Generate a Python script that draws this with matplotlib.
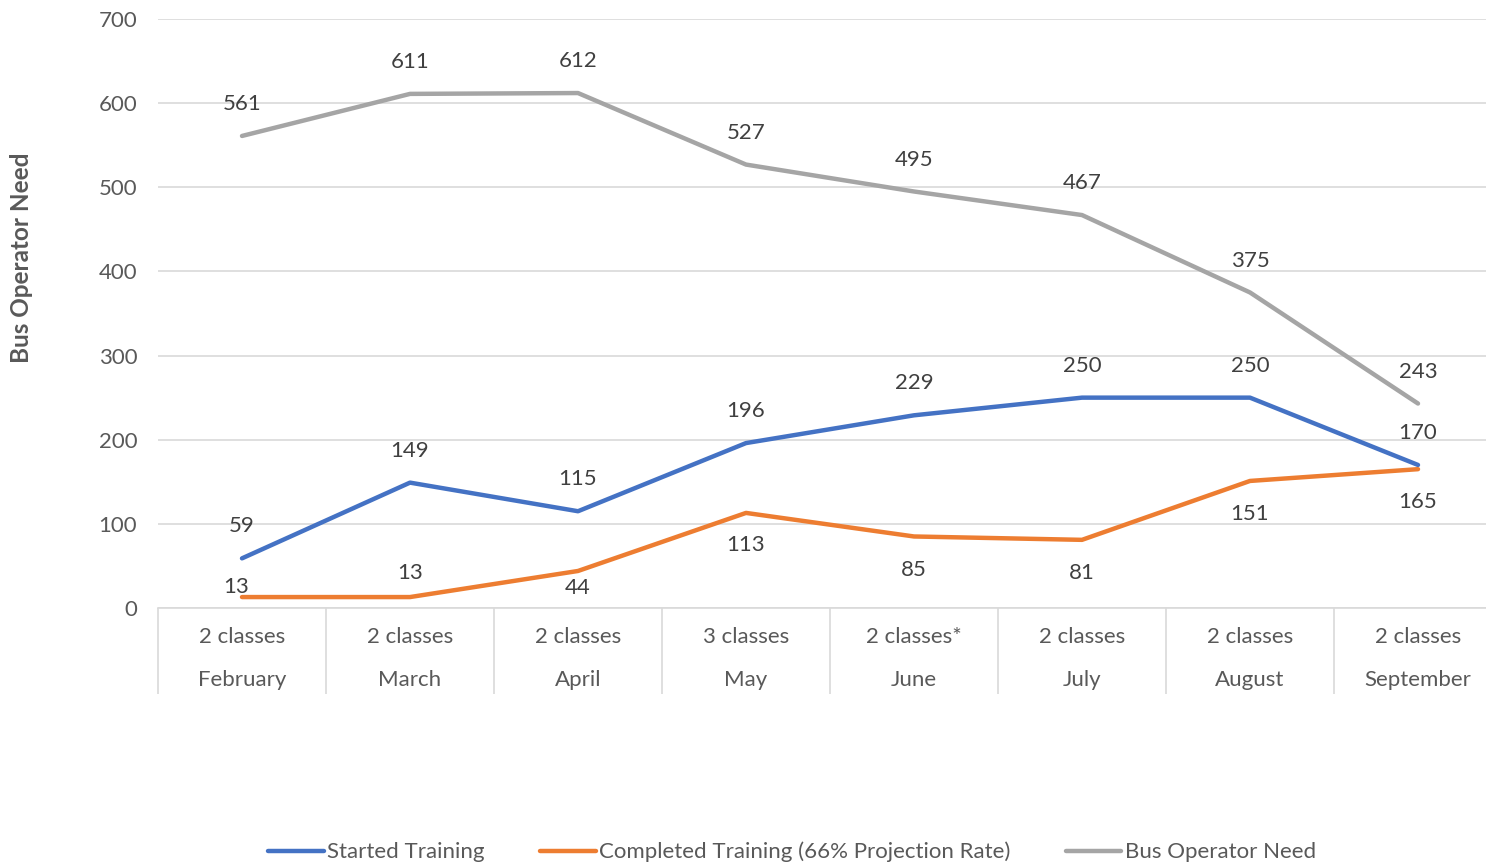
import matplotlib.pyplot as plt
import numpy as np

months = ['February', 'March', 'April', 'May', 'June', 'July', 'August', 'September']
classes = ['2 classes', '2 classes', '2 classes', '3 classes', '2 classes*', '2 classes', '2 classes', '2 classes']
started = [59, 149, 115, 196, 229, 250, 250, 170]
completed = [13, 13, 44, 113, 85, 81, 151, 165]
need = [561, 611, 612, 527, 495, 467, 375, 243]

# vertical offset (points) of the completed-training labels, + above / - below
completed_off = [7, 17, -12, -23, -24, -24, -24, -24]

plt.rcParams['font.family'] = ['Lato', 'DejaVu Sans']
text_color = '#595959'
grid_color = '#D9D9D9'
fs = 16

fig = plt.figure(figsize=(14.86, 8.67), dpi=100)
ax = fig.add_axes([158 / 1486, 1 - 608 / 867, 1344 / 1486, 589 / 867])

x = np.arange(len(months))
ax.plot(x, started, color='#4472C4', lw=3.2, label='Started Training', solid_capstyle='round')
ax.plot(x, completed, color='#ED7D31', lw=3.2, label='Completed Training (66% Projection Rate)', solid_capstyle='round')
ax.plot(x, need, color='#A5A5A5', lw=3.2, label='Bus Operator Need', solid_capstyle='round')

for i in x:
    ax.annotate(str(need[i]), (i, need[i]), xytext=(0, 23), textcoords='offset points',
                ha='center', va='center', fontsize=fs, color='#404040')
    ax.annotate(str(started[i]), (i, started[i]), xytext=(0, 23), textcoords='offset points',
                ha='center', va='center', fontsize=fs, color='#404040')
    ax.annotate(str(completed[i]), (i, completed[i]), xytext=(-4 if i == 0 else 0, completed_off[i]),
                textcoords='offset points', ha='center', va='center', fontsize=fs, color='#404040')

ax.set_xlim(-0.5, len(months) - 0.5)
ax.set_ylim(0, 700)
ax.set_yticks(range(0, 701, 100))
ax.grid(axis='y', color=grid_color, lw=1.2)
ax.set_axisbelow(True)

ax.set_xticks(x)
ax.set_xticklabels([c + '\n' + m for c, m in zip(classes, months)], linespacing=2.4)
ax.set_xticks(np.arange(-0.5, len(months)), minor=True)
ax.tick_params(axis='x', which='major', length=0, pad=14, labelsize=fs, labelcolor=text_color)
ax.tick_params(axis='x', which='minor', length=62, width=1.2, color=grid_color)
ax.tick_params(axis='y', length=0, pad=15, labelsize=fs, labelcolor=text_color)

for s in ['top', 'right', 'left']:
    ax.spines[s].set_visible(False)
ax.spines['bottom'].set_color(grid_color)
ax.spines['bottom'].set_linewidth(1.2)

fig.text(22 / 1486, 1 - 258 / 867, 'Bus Operator Need', rotation=90, ha='center', va='center',
         fontsize=17.5, fontweight='bold', color=text_color)

fig.legend(loc='center', bbox_to_anchor=(792 / 1486, 1 - 852 / 867), ncol=3, frameon=False,
           fontsize=fs, handlelength=2.5, handletextpad=0.15, columnspacing=2.5, labelcolor=text_color)

fig.savefig('out.png', dpi=100)
